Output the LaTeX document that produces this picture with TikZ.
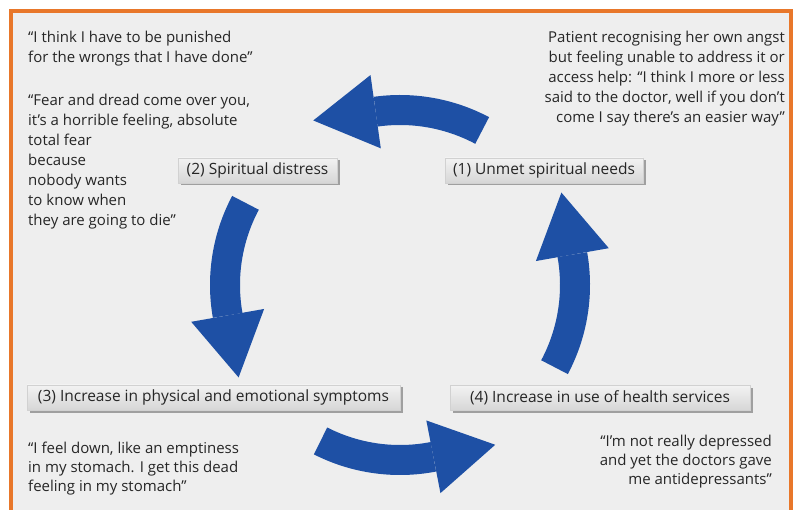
\documentclass[tikz,border=0pt]{standalone}
\usepackage{fontspec}
\setmainfont{Open Sans}
\usetikzlibrary{calc,shadows}
\definecolor{frameorange}{HTML}{E8772A}
\definecolor{panelgray}{HTML}{EEEEEE}
\definecolor{cycleblue}{HTML}{1E50A5}
\definecolor{inktext}{HTML}{262626}
\tikzset{
  stage/.style={draw=black!18, line width=0.4pt, top color=black!5, bottom color=black!16,
    drop shadow={shadow xshift=2.5pt, shadow yshift=-2.5pt, fill=black!45, opacity=0.8},
    minimum height=25pt, inner sep=0pt, text=inktext,
    font=\fontsize{15.5}{20}\selectfont},
  quote/.style={inner sep=0pt, text=inktext, font=\fontsize{15}{20}\selectfont},
  quotetight/.style={quote, font=\fontsize{15}{19}\selectfont},
  shaft/.style={draw=cycleblue, line width=30pt, line cap=butt},
  headfill/.style={fill=cycleblue}
}
\begin{document}
\begin{tikzpicture}[x=1pt,y=-1pt]
\useasboundingbox (0,0) rectangle (795,510);
\fill[white] (0,0) rectangle (795,510);
\fill[panelgray] (11,11) rectangle (791,510);
\draw[frameorange, line width=3.2pt] (11,510) -- (11,11) -- (791,11) -- (791,510);

\coordinate (c) at (400,285);

% arrows: tail angle, head base angle
\foreach \t/\b in {-62/-98, 208/170, 117/79, 28/-10}{
  \draw[shaft] ($(c)+(\t:175)$) arc[start angle=\t, end angle=\b, radius=175];
  \fill[headfill] ($(c)+(\b:212)$) -- ($(c)+(\b:175)+(\b-90:63)$) -- ($(c)+(\b:138)$) -- cycle;
}

\node[stage, minimum width=159pt] (s2) at (257.5,170.5) {(2) Spiritual distress};
\node[stage, minimum width=198pt] (s1) at (544,170.5) {(1) Unmet spiritual needs};
\node[stage, minimum width=373pt] (s3) at (213.5,397.5) {(3) Increase in physical and emotional symptoms};
\node[stage, minimum width=300pt] (s4) at (600,398) {(4) Increase in use of health services};

\node[quote, anchor=north west, align=left] (q1) at (28,31)
  {“I think I have to be punished\\for the wrongs that I have done”};
\node[quote, anchor=north west, align=left] (q2) at (28,94)
  {“Fear and dread come over you,\\it’s a horrible feeling, absolute\\total fear\\because\\nobody wants\\to know when\\they are going to die”};
\node[quote, anchor=north east, align=right] (q3) at (785,31)
  {Patient recognising her own angst\\but feeling unable to address it or\\access help: “I think I more or less\\said to the doctor, well if you don’t\\come I say there’s an easier way”};
\node[quotetight, anchor=north west, align=left] (q4) at (28,442)
  {“I feel down, like an emptiness\\in my stomach. I get this dead\\feeling in my stomach”};
\node[quotetight, anchor=north east, align=right] (q5) at (772,435)
  {“I’m not really depressed\\and yet the doctors gave\\me antidepressants”};
\end{tikzpicture}
\end{document}
